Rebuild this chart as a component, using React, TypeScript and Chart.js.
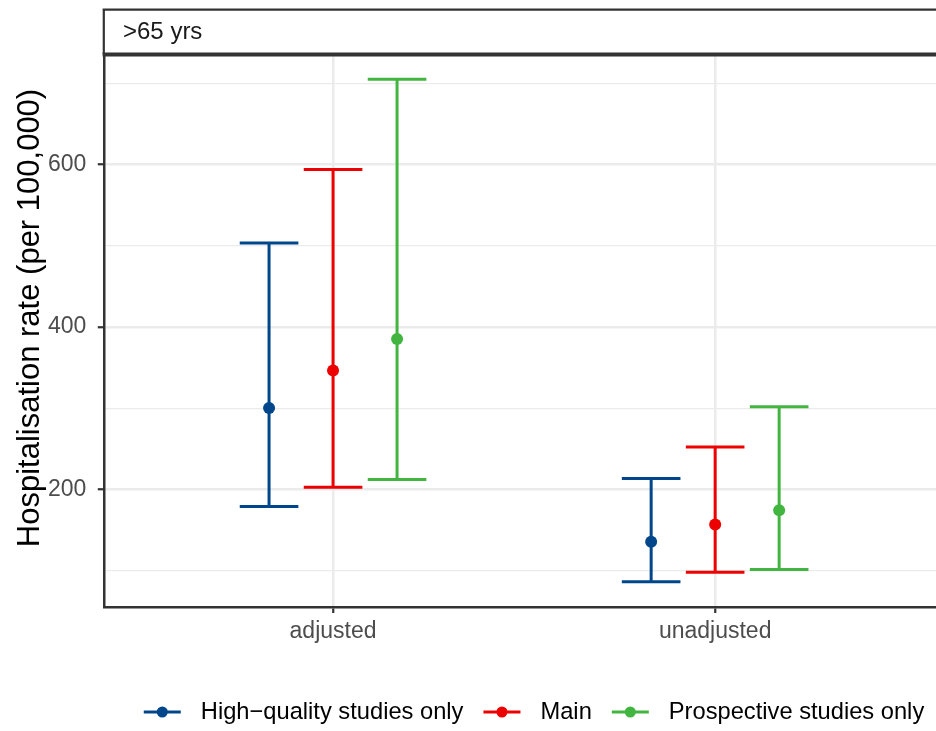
import React, { useEffect, useRef } from 'react';
import { Chart, registerables } from 'chart.js';

Chart.register(...registerables);

const categories = ['adjusted', 'unadjusted'];
const seriesNames = ['High\u2212quality studies only', 'Main', 'Prospective studies only'];
const seriesColors = ['#00468B', '#ED0000', '#42B540'];

const highQualityEstimate = [300.5, 135.8];
const highQualityLower = [179.1, 86.3];
const highQualityUpper = [503.7, 213.5];

const mainEstimate = [346.5, 157.0];
const mainLower = [202.8, 98.2];
const mainUpper = [594.0, 252.4];

const prospectiveEstimate = [385.3, 174.6];
const prospectiveLower = [212.3, 101.5];
const prospectiveUpper = [705.4, 302.0];

const yMajorTicks = [200, 400, 600];
const yMinorTicks = [100, 300, 500, 700];

const stripLabel = '>65 yrs';
const yTitle = 'Hospitalisation rate (per 100,000)';

const FONT = '"Liberation Sans", Arial, sans-serif';
const DODGE = 0.1675;
const CAP_HALF = 0.0767;

const series = [
  { name: seriesNames[0], color: seriesColors[0], est: highQualityEstimate, lo: highQualityLower, hi: highQualityUpper },
  { name: seriesNames[1], color: seriesColors[1], est: mainEstimate, lo: mainLower, hi: mainUpper },
  { name: seriesNames[2], color: seriesColors[2], est: prospectiveEstimate, lo: prospectiveLower, hi: prospectiveUpper },
];
const offsets = series.map((_, k) => (k - (series.length - 1) / 2) * DODGE);

const errorBarPlugin = {
  id: 'errorBars',
  beforeDatasetsDraw(chart: any) {
    const ctx = chart.ctx;
    const xs = chart.scales.x;
    const ys = chart.scales.y;
    ctx.save();
    ctx.lineWidth = 3;
    ctx.lineCap = 'butt';
    series.forEach((s, k) => {
      ctx.strokeStyle = s.color;
      categories.forEach((_, i) => {
        const xv = i + 1 + offsets[k];
        const x = xs.getPixelForValue(xv);
        const xl = xs.getPixelForValue(xv - CAP_HALF);
        const xr = xs.getPixelForValue(xv + CAP_HALF);
        const yl = ys.getPixelForValue(s.lo[i]);
        const yh = ys.getPixelForValue(s.hi[i]);
        ctx.beginPath();
        ctx.moveTo(x, yl);
        ctx.lineTo(x, yh);
        ctx.moveTo(xl, yl);
        ctx.lineTo(xr, yl);
        ctx.moveTo(xl, yh);
        ctx.lineTo(xr, yh);
        ctx.stroke();
      });
    });
    ctx.restore();
  },
};

const decorPlugin = {
  id: 'decor',
  afterDraw(chart: any) {
    const ctx = chart.ctx;
    const ca = chart.chartArea;
    ctx.save();
    // strip
    ctx.fillStyle = '#FFFFFF';
    ctx.fillRect(ca.left, 10, chart.width - ca.left, ca.top - 10);
    ctx.strokeStyle = '#333333';
    ctx.lineWidth = 2.2;
    ctx.beginPath();
    ctx.moveTo(ca.left - 1.2, 9.7);
    ctx.lineTo(chart.width, 9.7);
    ctx.moveTo(ca.left, 9.7);
    ctx.lineTo(ca.left, ca.top);
    ctx.stroke();
    ctx.lineWidth = 4;
    ctx.beginPath();
    ctx.moveTo(ca.left - 1.2, ca.top + 0.5);
    ctx.lineTo(chart.width, ca.top + 0.5);
    ctx.stroke();
    ctx.fillStyle = '#1A1A1A';
    ctx.font = `24px ${FONT}`;
    ctx.textAlign = 'left';
    ctx.textBaseline = 'middle';
    ctx.fillText(stripLabel, 123, 32);

    // y title
    ctx.save();
    ctx.translate(30, 318);
    ctx.rotate(-Math.PI / 2);
    ctx.fillStyle = '#000000';
    ctx.font = `31px ${FONT}`;
    ctx.textAlign = 'center';
    ctx.textBaseline = 'middle';
    ctx.fillText(yTitle, 0, 0);
    ctx.restore();

    // legend
    ctx.font = `23.7px ${FONT}`;
    const keyW = 37;
    const gapKT = 20;
    const gapItem = 20;
    const widths = series.map((s) => ctx.measureText(s.name).width);
    const total = widths.reduce((a, w) => a + keyW + gapKT + w, 0) + gapItem * (series.length - 1);
    let x = 534 - total / 2;
    const ly = 712;
    series.forEach((s, k) => {
      ctx.strokeStyle = s.color;
      ctx.lineWidth = 3;
      ctx.beginPath();
      ctx.moveTo(x, ly);
      ctx.lineTo(x + keyW, ly);
      ctx.stroke();
      ctx.fillStyle = s.color;
      ctx.beginPath();
      ctx.arc(x + keyW / 2, ly, 5.5, 0, Math.PI * 2);
      ctx.fill();
      ctx.fillStyle = '#000000';
      ctx.textAlign = 'left';
      ctx.textBaseline = 'middle';
      ctx.fillText(s.name, x + keyW + gapKT, ly);
      x += keyW + gapKT + widths[k] + gapItem;
    });
    ctx.restore();
  },
};

const isMajor = (v: number) => yMajorTicks.includes(Math.round(v));

export default function App() {
  const ref = useRef<HTMLCanvasElement | null>(null);
  useEffect(() => {
    if (!ref.current) return;
    const chart = new Chart(ref.current, {
      type: 'scatter',
      data: {
        datasets: series.map((s, k) => ({
          label: s.name,
          data: categories.map((_, i) => ({ x: i + 1 + offsets[k], y: s.est[i] })),
          backgroundColor: s.color,
          borderColor: s.color,
          borderWidth: 0,
          pointRadius: 6,
          pointHoverRadius: 6,
        })),
      },
      options: {
        responsive: false,
        maintainAspectRatio: false,
        animation: false,
        events: [],
        layout: { autoPadding: false, padding: { top: 54, left: 0, right: 0, bottom: 0 } },
        plugins: { legend: { display: false }, tooltip: { enabled: false } },
        scales: {
          x: {
            type: 'linear',
            min: 0.4,
            max: 2.578,
            afterBuildTicks: (s: any) => {
              s.ticks = categories.map((_, i) => ({ value: i + 1 }));
            },
            afterFit: (s: any) => {
              s.height = 124;
            },
            ticks: {
              callback: (_v: any, i: number) => categories[i] ?? '',
              font: { family: FONT, size: 23 },
              color: '#4D4D4D',
              padding: 5,
              maxRotation: 0,
              autoSkip: false,
            },
            grid: {
              color: '#EBEBEB',
              lineWidth: 2.5,
              drawTicks: true,
              tickLength: 6,
              tickWidth: 2.2,
              tickColor: '#333333',
            },
            border: { display: true, color: '#333333', width: 2.5 },
          },
          y: {
            type: 'linear',
            min: 55.3,
            max: 736.4,
            afterBuildTicks: (s: any) => {
              s.ticks = [...yMajorTicks, ...yMinorTicks].sort((a, b) => a - b).map((v) => ({ value: v }));
            },
            afterFit: (s: any) => {
              s.width = 103.8;
            },
            ticks: {
              callback: (v: any) => (isMajor(Number(v)) ? String(v) : ''),
              font: { family: FONT, size: 23 },
              color: '#4D4D4D',
              padding: 11.5,
              autoSkip: false,
            },
            grid: {
              color: '#EBEBEB',
              lineWidth: (c: any) => (c.tick && isMajor(c.tick.value) ? 2.5 : 1.2),
              drawTicks: true,
              tickLength: 6,
              tickWidth: 2.2,
              tickColor: (c: any) => (c.tick && isMajor(c.tick.value) ? '#333333' : 'rgba(0,0,0,0)'),
            },
            border: { display: true, color: '#333333', width: 2.5 },
          },
        },
      },
      plugins: [errorBarPlugin, decorPlugin],
    } as any);
    return () => chart.destroy();
  }, []);
  return (
    <div style={{ position: 'fixed', left: 0, top: 0, width: 936, height: 731, background: '#FFFFFF' }}>
      <canvas ref={ref} width={936} height={731} style={{ display: 'block', width: 936, height: 731 }} />
    </div>
  );
}
